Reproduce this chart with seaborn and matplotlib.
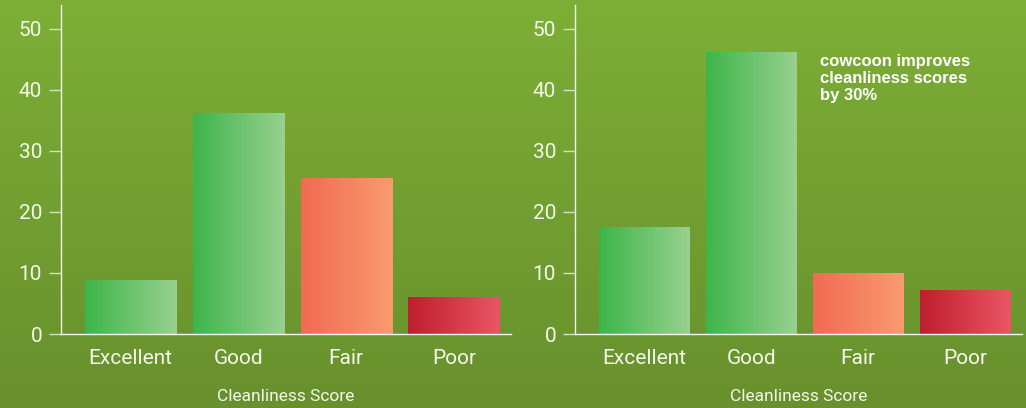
import matplotlib

matplotlib.use("Agg")
import matplotlib.pyplot as plt
import numpy as np
import pandas as pd
import seaborn as sns
from matplotlib.colors import LinearSegmentedColormap

categories = ["Excellent", "Good", "Fair", "Poor"]
before_scores = [8.8, 36.1, 25.4, 6.0]
after_scores = [17.5, 46.1, 9.9, 7.2]
yticks = [0, 10, 20, 30, 40, 50]
note = "cowcoon improves\ncleanliness scores\nby 30%"

# left -> right colour stops for each bar
bar_grads = {
    "Excellent": ("#3db54a", "#98d190"),
    "Good": ("#3db54a", "#98d190"),
    "Fair": ("#f26a53", "#f99b6f"),
    "Poor": ("#be1e2d", "#eb5565"),
}

TXT = "#f3f7ec"
plt.rcParams["font.family"] = ["Roboto", "DejaVu Sans"]

fig = plt.figure(figsize=(10.26, 4.08), dpi=100)

# vertical background gradient
bg = fig.add_axes([0, 0, 1, 1], zorder=-10)
bg_cmap = LinearSegmentedColormap.from_list("bg", ["#7daf36", "#68902d"])
bg.imshow(np.linspace(0, 1, 256).reshape(-1, 1), cmap=bg_cmap, aspect="auto",
          extent=[0, 1, 0, 1])
bg.axis("off")


def draw_panel(ax, values):
    df = pd.DataFrame({"score": categories, "value": values})
    sns.barplot(data=df, x="score", y="value", hue="score", order=categories,
                palette=[bar_grads[c][0] for c in categories], width=0.845,
                legend=False, ax=ax, saturation=1)
    for patch, cat in zip(ax.patches, categories):
        x0, y0 = patch.get_x(), patch.get_y()
        w, h = patch.get_width(), patch.get_height()
        cmap = LinearSegmentedColormap.from_list(cat, bar_grads[cat])
        ax.imshow(np.linspace(0, 1, 256).reshape(1, -1), cmap=cmap, aspect="auto",
                  extent=[x0, x0 + w, y0, y0 + h], zorder=2)
        patch.set_visible(False)

    ax.set_facecolor("none")
    ax.set_xlim(-0.645, 3.53)
    ax.set_ylim(0, 53.9)
    ax.set_yticks(yticks)
    ax.set_yticklabels([str(t) for t in yticks], fontsize=15, color=TXT)
    ax.set_xticks(range(len(categories)))
    ax.set_xticklabels(categories, fontsize=15, color=TXT)
    ax.tick_params(axis="y", length=8.6, width=1, color="#d3e2bd", pad=5)
    ax.tick_params(axis="x", length=0, pad=11)
    for side in ["top", "right"]:
        ax.spines[side].set_visible(False)
    ax.spines["left"].set_color("#f4f8ee")
    ax.spines["bottom"].set_color("#f4f8ee")
    ax.spines["left"].set_linewidth(1)
    ax.spines["bottom"].set_linewidth(1)
    ax.set_xlabel("Cleanliness Score", fontsize=12.5, color=TXT, labelpad=15)
    ax.set_ylabel("")


ax1 = fig.add_axes([61 / 1026, 74 / 408, 450 / 1026, 329 / 408])
ax2 = fig.add_axes([575 / 1026, 74 / 408, 447 / 1026, 329 / 408])
draw_panel(ax1, before_scores)
draw_panel(ax2, after_scores)

ax2.text(0.548, 0.85, note, transform=ax2.transAxes, ha="left", va="top",
         fontsize=12, fontweight="bold", color="white",
         family=["Liberation Sans", "DejaVu Sans"], linespacing=1.15)

fig.savefig("out.png", dpi=100)
